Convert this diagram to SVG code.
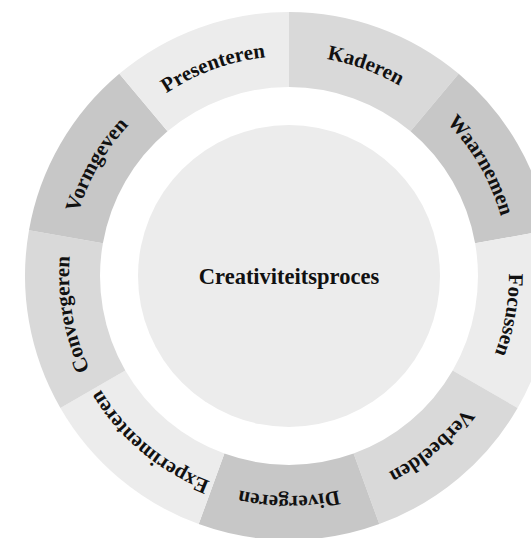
<svg xmlns="http://www.w3.org/2000/svg" xmlns:xlink="http://www.w3.org/1999/xlink" width="531" height="538" viewBox="0 0 531 538">
  <style>
    .shade1 { fill: #ececec; }
    .shade2 { fill: #d9d9d9; }
    .shade3 { fill: #c7c7c7; }
    .label { font-family: "Liberation Serif", "Times New Roman", serif; font-weight: bold; font-size: 21px; fill: #111111; }
    .title { font-family: "Liberation Serif", "Times New Roman", serif; font-weight: bold; font-size: 22.5px; fill: #111111; }
  </style>
  <defs>
    <!-- clockwise circle through the middle of the ring, starting at the top -->
    <path id="labelTrack" d="M289,56 A220,220 0 1,1 289,496 A220,220 0 1,1 289,56"/>
  </defs>
  <rect width="531" height="538" fill="#ffffff"/>

  <g id="ring">
    <g id="seg-kaderen">
      <path class="shade2" d="M289,12 A264,264 0 0,1 458.7,73.8 L410.5,131.2 A189,189 0 0,0 289,87 Z"/>
      <text class="label"><textPath xlink:href="#labelTrack" startOffset="5.556%" text-anchor="middle">Kaderen</textPath></text>
    </g>
    <g id="seg-waarnemen">
      <path class="shade3" d="M458.7,73.8 A264,264 0 0,1 549,230.2 L475.1,243.2 A189,189 0 0,0 410.5,131.2 Z"/>
      <text class="label"><textPath xlink:href="#labelTrack" startOffset="16.667%" text-anchor="middle">Waarnemen</textPath></text>
    </g>
    <g id="seg-focussen">
      <path class="shade1" d="M549,230.2 A264,264 0 0,1 517.6,408 L452.7,370.5 A189,189 0 0,0 475.1,243.2 Z"/>
      <text class="label"><textPath xlink:href="#labelTrack" startOffset="27.778%" text-anchor="middle">Focussen</textPath></text>
    </g>
    <g id="seg-verbeelden">
      <path class="shade2" d="M517.6,408 A264,264 0 0,1 379.3,524.1 L353.6,453.6 A189,189 0 0,0 452.7,370.5 Z"/>
      <text class="label"><textPath xlink:href="#labelTrack" startOffset="38.889%" text-anchor="middle">Verbeelden</textPath></text>
    </g>
    <g id="seg-divergeren">
      <path class="shade3" d="M379.3,524.1 A264,264 0 0,1 198.7,524.1 L224.4,453.6 A189,189 0 0,0 353.6,453.6 Z"/>
      <text class="label"><textPath xlink:href="#labelTrack" startOffset="50%" text-anchor="middle">Divergeren</textPath></text>
    </g>
    <g id="seg-experimenteren">
      <path class="shade1" d="M198.7,524.1 A264,264 0 0,1 60.4,408 L125.3,370.5 A189,189 0 0,0 224.4,453.6 Z"/>
      <text class="label"><textPath xlink:href="#labelTrack" startOffset="61.111%" text-anchor="middle">Experimenteren</textPath></text>
    </g>
    <g id="seg-convergeren">
      <path class="shade2" d="M60.4,408 A264,264 0 0,1 29,230.2 L102.9,243.2 A189,189 0 0,0 125.3,370.5 Z"/>
      <text class="label"><textPath xlink:href="#labelTrack" startOffset="72.222%" text-anchor="middle">Convergeren</textPath></text>
    </g>
    <g id="seg-vormgeven">
      <path class="shade3" d="M29,230.2 A264,264 0 0,1 119.3,73.8 L167.5,131.2 A189,189 0 0,0 102.9,243.2 Z"/>
      <text class="label"><textPath xlink:href="#labelTrack" startOffset="83.333%" text-anchor="middle">Vormgeven</textPath></text>
    </g>
    <g id="seg-presenteren">
      <path class="shade1" d="M119.3,73.8 A264,264 0 0,1 289,12 L289,87 A189,189 0 0,0 167.5,131.2 Z"/>
      <text class="label"><textPath xlink:href="#labelTrack" startOffset="94.444%" text-anchor="middle">Presenteren</textPath></text>
    </g>
  </g>

  <g id="center">
    <circle class="shade1" cx="289" cy="276" r="151"/>
    <text class="title" x="289" y="284" text-anchor="middle">Creativiteitsproces</text>
  </g>
</svg>
